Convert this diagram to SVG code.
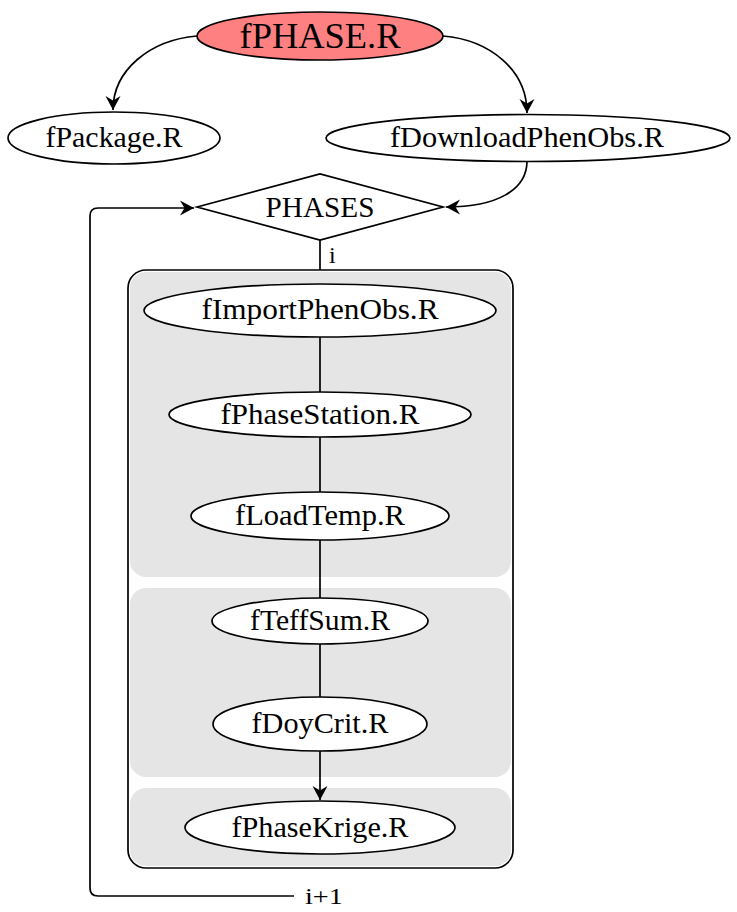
<svg xmlns="http://www.w3.org/2000/svg" width="737" height="912" viewBox="0 0 737 912">
<defs>
<marker id="arr" markerWidth="18" markerHeight="18" refX="0" refY="0" viewBox="-16 -9 18 18" orient="auto" markerUnits="userSpaceOnUse">
<path d="M0,0 L-14,-7.5 L-9.5,0 L-14,7.5 Z" fill="#000"/>
</marker>
<style>
text{font-family:"Liberation Serif","DejaVu Serif",serif;fill:#000;text-anchor:middle}
.n{font-size:29px}
.node{fill:#fff;stroke:#000;stroke-width:1.7}
.edge{fill:none;stroke:#000;stroke-width:1.7}
.panel{fill:#e5e5e5;stroke:none}
.lbl{font-size:24px;text-anchor:start}
</style>
</defs>
<rect x="0" y="0" width="737" height="912" fill="#fff"/>
<g id="loop-box">
<rect x="128" y="270" width="385" height="598" rx="18" fill="#fff" stroke="#000" stroke-width="1.7"/>
<rect class="panel" x="130" y="272" width="381" height="305" rx="16"/>
<rect class="panel" x="130" y="588" width="381" height="189" rx="16"/>
<rect class="panel" x="130" y="788" width="381" height="78" rx="16"/>
</g>
<g id="connectors">
<path class="edge" d="M197,36 C150,40 113,70 113,110" marker-end="url(#arr)"/>
<path class="edge" d="M443,36 C490,40 527,70 527,113" marker-end="url(#arr)"/>
<path class="edge" d="M527,161 C527,190 497,207 446,207" marker-end="url(#arr)"/>
<path class="edge" d="M294,896 L98,896 Q90,896 90,888 L90,216 Q90,208 98,208 L194,208" marker-end="url(#arr)"/>
<path class="edge" d="M320,240 L320,270"/>
<path class="edge" d="M320,337 L320,392"/>
<path class="edge" d="M320,437 L320,492"/>
<path class="edge" d="M320,540 L320,598"/>
<path class="edge" d="M320,644 L320,697"/>
<path class="edge" d="M320,751 L320,800" marker-end="url(#arr)"/>
<text class="lbl" x="329" y="263">i</text>
<text class="lbl" x="305" y="904" textLength="38" lengthAdjust="spacingAndGlyphs">i+1</text>
</g>
<g id="fPHASE">
<ellipse cx="320" cy="36" rx="123" ry="24" fill="#ff8080" stroke="#000" stroke-width="1.7"/>
<text x="320" y="48" font-size="36" textLength="161" lengthAdjust="spacingAndGlyphs">fPHASE.R</text>
</g>
<g id="fPackage">
<ellipse class="node" cx="114" cy="138" rx="106" ry="26"/>
<text class="n" x="114" y="147" textLength="137" lengthAdjust="spacingAndGlyphs">fPackage.R</text>
</g>
<g id="fDownloadPhenObs">
<ellipse class="node" cx="528" cy="138" rx="202" ry="23.5"/>
<text class="n" x="527" y="147" textLength="274" lengthAdjust="spacingAndGlyphs">fDownloadPhenObs.R</text>
</g>
<g id="PHASES">
<polygon class="node" points="197,207 320,174 443,207 320,240"/>
<text class="n" x="320" y="217" textLength="109" lengthAdjust="spacingAndGlyphs">PHASES</text>
</g>
<g id="fImportPhenObs">
<ellipse class="node" cx="320" cy="310.5" rx="176" ry="26.5"/>
<text class="n" x="320" y="319" textLength="237" lengthAdjust="spacingAndGlyphs">fImportPhenObs.R</text>
</g>
<g id="fPhaseStation">
<ellipse class="node" cx="320" cy="414.5" rx="151" ry="22.5"/>
<text class="n" x="320" y="424" textLength="199" lengthAdjust="spacingAndGlyphs">fPhaseStation.R</text>
</g>
<g id="fLoadTemp">
<ellipse class="node" cx="320" cy="516" rx="129" ry="24"/>
<text class="n" x="320" y="525" textLength="170" lengthAdjust="spacingAndGlyphs">fLoadTemp.R</text>
</g>
<g id="fTeffSum">
<ellipse class="node" cx="320" cy="621" rx="108" ry="23"/>
<text class="n" x="320" y="630" textLength="140" lengthAdjust="spacingAndGlyphs">fTeffSum.R</text>
</g>
<g id="fDoyCrit">
<ellipse class="node" cx="320" cy="724" rx="107" ry="27"/>
<text class="n" x="320" y="733" textLength="137" lengthAdjust="spacingAndGlyphs">fDoyCrit.R</text>
</g>
<g id="fPhaseKrige">
<ellipse class="node" cx="320" cy="827.5" rx="135" ry="26.5"/>
<text class="n" x="320" y="837" textLength="177" lengthAdjust="spacingAndGlyphs">fPhaseKrige.R</text>
</g>
</svg>
